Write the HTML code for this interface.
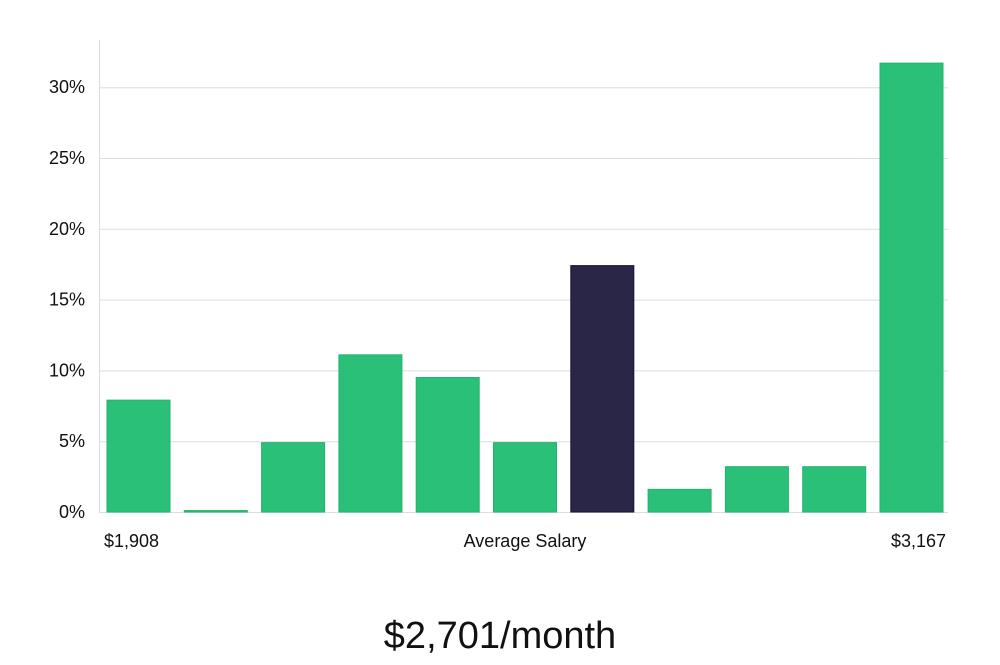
<!DOCTYPE html>
<html><head><meta charset="utf-8"><style>
body{margin:0;background:#fff;width:1000px;height:660px;overflow:hidden;font-family:"Liberation Sans",sans-serif}
</style></head><body>
<svg width="1000" height="660" xmlns="http://www.w3.org/2000/svg">
<g id="grid"></g>
<g id="bars"></g>
<g id="yt"></g>
<line x1="99.5" y1="40" x2="99.5" y2="512" stroke="#ddd"/>
<text x="104" y="547" font-size="18" fill="#111">$1,908</text>
<text x="525" y="547" font-size="18" fill="#111" text-anchor="middle">Average Salary</text>
<text x="946" y="547" font-size="18" fill="#111" text-anchor="end">$3,167</text>
<text x="500" y="648" font-size="38" fill="#111" text-anchor="middle">$2,701/month</text>
</svg>
<script>
const values=[7.9,0.1,4.9,11.1,9.5,4.9,17.4,1.6,3.2,3.2,31.7];
const highlight=[false,false,false,false,false,false,true,false,false,false,false];
const ticks=[0,5,10,15,20,25,30];
const tickLabels=["0%","5%","10%","15%","20%","25%","30%"];
const NS="http://www.w3.org/2000/svg";
const y=v=>512-v*14.16;
const x=i=>107+i*77.3;
const g=document.getElementById('grid'),b=document.getElementById('bars'),yt=document.getElementById('yt');
ticks.forEach((t,i)=>{
 const l=document.createElementNS(NS,'line');
 l.setAttribute('x1',99);l.setAttribute('x2',948);l.setAttribute('y1',y(t)+0.5);l.setAttribute('y2',y(t)+0.5);
 l.setAttribute('stroke','#ddd');
 
 
 g.appendChild(l);
 const tx=document.createElementNS(NS,'text');
 tx.setAttribute('x',85);tx.setAttribute('y',y(t)+6);tx.setAttribute('text-anchor','end');
 tx.setAttribute('font-size','18');tx.setAttribute('fill','#111');tx.textContent=tickLabels[i];
 
 
 yt.appendChild(tx);
});
values.forEach((v,i)=>{
 const r=document.createElementNS(NS,'rect');
 r.setAttribute('x',x(i));r.setAttribute('width',63);
 r.setAttribute('y',y(v));r.setAttribute('height',Math.max(512-y(v),1));
 r.setAttribute('fill',highlight[i]?'#2a2647':'#2bc077');
 r.setAttribute('stroke',highlight[i]?'#15122e':'#22b36c');
 
 
 b.appendChild(r);
});
</script>
</body></html>
